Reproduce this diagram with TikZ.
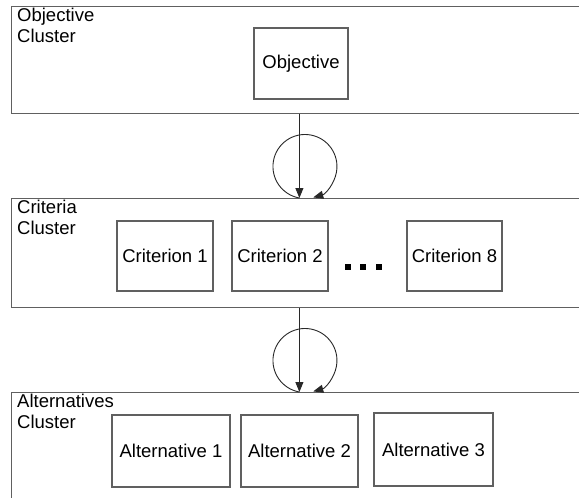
\documentclass[tikz,border=0pt]{standalone}
\usepackage{fontspec}
\setmainfont{Liberation Sans}
\usetikzlibrary{arrows.meta}
\definecolor{bord}{RGB}{96,96,96}
\definecolor{arr}{RGB}{40,40,40}
\begin{document}
\begin{tikzpicture}[x=1pt,y=-1pt,
 cluster/.style={draw=bord,line width=1.2pt,anchor=north west,inner sep=0pt,minimum width=600pt},
 elem/.style={draw=bord,line width=1.2pt,inner sep=0pt,font=\fontsize{18.5}{21}\selectfont},
 lab/.style={anchor=north west,align=left,inner sep=0pt,font=\fontsize{18.5}{21}\selectfont},
 conn/.style={draw=arr,line width=0.9pt,-{Triangle[length=10pt,width=8pt]}},
 dot/.style={fill=black,minimum size=5.5pt,inner sep=0pt},
]
\useasboundingbox (0,0) rectangle (579,498);
\clip (0,0) rectangle (579,498);
\fill[white] (0,0) rectangle (579,498);
% clusters
\node[cluster,minimum height=107pt] (oc) at (11,6) {};
\node[cluster,minimum height=109pt] (cc) at (11,198) {};
\node[cluster,minimum height=130pt] (ac) at (11,392) {};
\node[lab] (ocl) at (17,8) {Objective\\Cluster};
\node[lab] (ccl) at (17,200) {Criteria\\Cluster};
\node[lab] (acl) at (17,394) {Alternatives\\Cluster};
% elements
\node[elem,minimum width=94pt,minimum height=71pt] (obj) at (301,63.5) {Objective};
\node[elem,minimum width=96pt,minimum height=70pt] (c1) at (165,256) {Criterion 1};
\node[elem,minimum width=96pt,minimum height=70pt] (c2) at (280,256) {Criterion 2};
\node[elem,minimum width=95pt,minimum height=70pt] (c8) at (454.5,256) {Criterion 8};
\node[dot] (d1) at (348,267) {};
\node[dot] (d2) at (363,267) {};
\node[dot] (d3) at (379,267) {};
\node[elem,minimum width=118pt,minimum height=72pt] (a1) at (171,451) {Alternative 1};
\node[elem,minimum width=117pt,minimum height=72pt] (a2) at (299.5,451) {Alternative 2};
\node[elem,minimum width=119pt,minimum height=73pt] (a3) at (433.5,449.5) {Alternative 3};
% connectors
\coordinate (s1) at (299.4,198);
\coordinate (s2) at (299.4,392);
\draw[conn] (oc.south -| s1) -- (s1);
\draw[conn] (s1) arc[start angle=100,end angle=435,radius=32];
\draw[conn] (cc.south -| s2) -- (s2);
\draw[conn] (s2) arc[start angle=100,end angle=435,radius=32];
\end{tikzpicture}
\end{document}
